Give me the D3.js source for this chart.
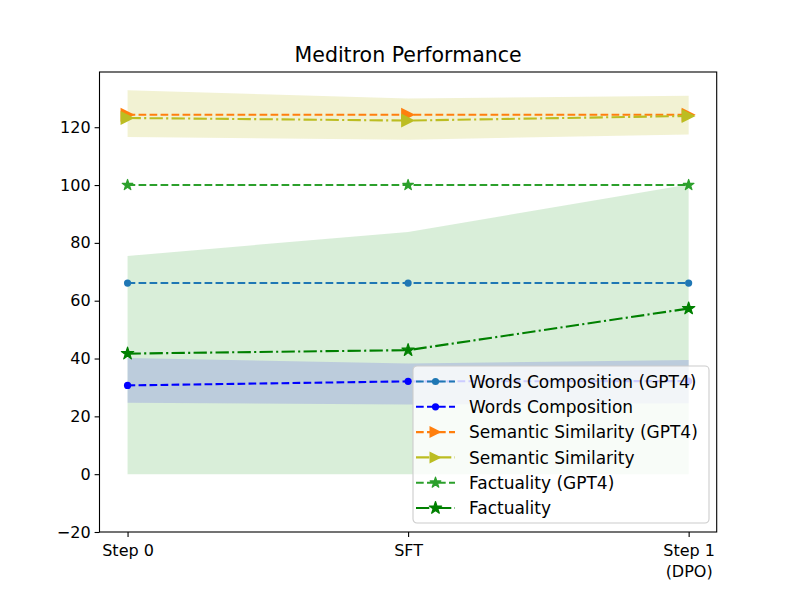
<!DOCTYPE html>
<html>
<head>
<meta charset="utf-8">
<script src="https://cdn.jsdelivr.net/npm/d3@7"></script>
<style>
  body { margin: 0; background: #fff; }
  text { font-family: "DejaVu Sans", sans-serif; }
</style>
</head>
<body>
<div id="chart"></div>
<script>
// steps on the x axis
var steps = ["Step 0", "SFT", "Step 1\n(DPO)"];
var yTicks = [-20, 0, 20, 40, 60, 80, 100, 120];

// series values
var wordsGpt4 = [66.1, 66.1, 66.1];
var words = [30.7, 32.1, 32.2];
var semGpt4 = [124.3, 124.3, 124.3];
var sem = [123.2, 122.3, 123.9];
var factGpt4 = [100, 100, 100];
var fact = [41.7, 42.9, 57.3];

// shaded ranges
var wordsLow = [24.7, 24.1, 24.5];
var wordsHigh = [40.2, 38.3, 39.5];
var semLow = [116.6, 115.7, 117.5];
var semHigh = [132.8, 129.9, 130.9];
var factLow = [0, 0, 0];
var factHigh = [75.5, 83.8, 100.2];

var svgWidth = 797;
var svgHeight = 598;
var margin = {top: 72, right: 80.3, bottom: 66, left: 99.5};
var width = svgWidth - margin.left - margin.right;
var height = svgHeight - margin.top - margin.bottom;

var svg = d3.select("#chart")
	.append("svg")
	.attr("width", svgWidth)
	.attr("height", svgHeight);

var g = svg.append("g")
	.attr("transform", "translate(" + margin.left + "," + margin.top + ")");

var x = d3.scaleLinear().domain([-0.1, 2.1]).range([0, width]);
var y = d3.scaleLinear().domain([-20, 139.1]).range([height, 0]);

var idx = d3.range(steps.length);

var dashed = "7.7,3.3";
var dashdot = "13.3,3.3,2.1,3.3";

var series = [
	{name: "Words Composition (GPT4)", values: wordsGpt4, color: "#1f77b4", dash: dashed, marker: "circle", size: 3.6},
	{name: "Words Composition", values: words, color: "#0000ff", dash: dashed, marker: "circle", size: 3.6},
	{name: "Semantic Similarity (GPT4)", values: semGpt4, color: "#ff7f0e", dash: dashed, marker: "tri", size: 14},
	{name: "Semantic Similarity", values: sem, color: "#bcbd22", dash: dashdot, marker: "tri", size: 14},
	{name: "Factuality (GPT4)", values: factGpt4, color: "#2ca02c", dash: dashed, marker: "star", size: 5.6},
	{name: "Factuality", values: fact, color: "#008000", dash: dashdot, marker: "star", size: 6.5}
];

// bands
function band(lo, hi, fill, op) {
	var area = d3.area()
		.x(function(i) { return x(i); })
		.y0(function(i) { return y(lo[i]); })
		.y1(function(i) { return y(hi[i]); });
	g.append("path")
		.datum(idx)
		.attr("fill", fill)
		.attr("fill-opacity", op)
		.attr("d", area);
}
band(semLow, semHigh, "#bcbd22", 0.2);
band(factLow, factHigh, "#2ca02c", 0.18);
band(wordsLow, wordsHigh, "#7a7ee6", 0.3);

function starPath(r) {
	var pts = [];
	for (var k = 0; k < 10; k++) {
		var rr = k % 2 === 0 ? r : r * 0.381966;
		var a = -Math.PI / 2 + k * Math.PI / 5;
		pts.push([rr * Math.cos(a), rr * Math.sin(a)]);
	}
	return "M" + pts.map(function(p) { return p[0].toFixed(2) + "," + p[1].toFixed(2); }).join("L") + "Z";
}

function drawMarker(sel, s, cx, cy) {
	if (s.marker === "circle") {
		sel.append("circle")
			.attr("cx", cx).attr("cy", cy).attr("r", s.size)
			.attr("fill", s.color);
	} else if (s.marker === "tri") {
		var h = s.size / 2;
		sel.append("path")
			.attr("d", "M" + (cx + h) + "," + cy + "L" + (cx - h) + "," + (cy - h) + "L" + (cx - h) + "," + (cy + h) + "Z")
			.attr("fill", s.color);
	} else {
		sel.append("path")
			.attr("transform", "translate(" + cx + "," + cy + ")")
			.attr("d", starPath(s.size))
			.attr("fill", s.color)
			.attr("stroke", s.color)
			.attr("stroke-width", 1.2)
			.attr("stroke-linejoin", "round");
	}
}

var line = d3.line()
	.x(function(d, i) { return x(i); })
	.y(function(d) { return y(d); });

series.forEach(function(s) {
	g.append("path")
		.datum(s.values)
		.attr("fill", "none")
		.attr("stroke", s.color)
		.attr("stroke-width", 2.1)
		.attr("stroke-dasharray", s.dash)
		.attr("d", line);
	s.values.forEach(function(v, i) {
		drawMarker(g, s, x(i), y(v));
	});
});

// axes
var yAxis = g.append("g")
	.call(d3.axisLeft(y).tickValues(yTicks).tickSize(4.9).tickPadding(4)
		.tickFormat(function(d) { return d < 0 ? "\u2212" + Math.abs(d) : d; }));
yAxis.select(".domain").remove();
yAxis.selectAll("text").attr("font-size", 16).attr("fill", "#000").attr("font-family", "DejaVu Sans");
yAxis.selectAll("line").attr("stroke", "#000").attr("stroke-width", 1.1);

var xAxis = g.append("g")
	.attr("transform", "translate(0," + height + ")")
	.call(d3.axisBottom(x).tickValues(idx).tickSize(4.9).tickFormat(""));
xAxis.select(".domain").remove();
xAxis.selectAll("line").attr("stroke", "#000").attr("stroke-width", 1.1);
xAxis.selectAll(".tick").each(function(i) {
	var lines = steps[i].split("\n");
	var t = d3.select(this).append("text")
		.attr("text-anchor", "middle")
		.attr("font-size", 16)
		.attr("fill", "#000");
	lines.forEach(function(l, k) {
		t.append("tspan").attr("x", 0).attr("y", 24 + k * 21).text(l);
	});
});

g.append("rect")
	.attr("width", width).attr("height", height)
	.attr("fill", "none").attr("stroke", "#000").attr("stroke-width", 1.1);

// title
svg.append("text")
	.attr("x", margin.left + width / 2)
	.attr("y", 62)
	.attr("text-anchor", "middle")
	.attr("font-size", 20.5)
	.text("Meditron Performance");

// legend
var lg = svg.append("g").attr("transform", "translate(413,366)");
lg.append("rect")
	.attr("width", 296).attr("height", 157)
	.attr("rx", 4).attr("ry", 4)
	.attr("fill", "#fff").attr("fill-opacity", 0.8)
	.attr("stroke", "#cccccc").attr("stroke-width", 1.1);
series.forEach(function(s, k) {
	var ly = 15.5 + k * 25.3;
	lg.append("line")
		.attr("x1", 3).attr("x2", 42)
		.attr("y1", ly).attr("y2", ly)
		.attr("stroke", s.color)
		.attr("stroke-width", 2.1)
		.attr("stroke-dasharray", s.dash);
	var ms = Object.assign({}, s);
	if (s.marker === "tri") ms.size = 12;
	drawMarker(lg, ms, 22.5, ly);
	lg.append("text")
		.attr("x", 56).attr("y", ly)
		.attr("dy", "0.36em")
		.attr("font-size", 17)
		.text(s.name);
});
</script>
</body>
</html>
